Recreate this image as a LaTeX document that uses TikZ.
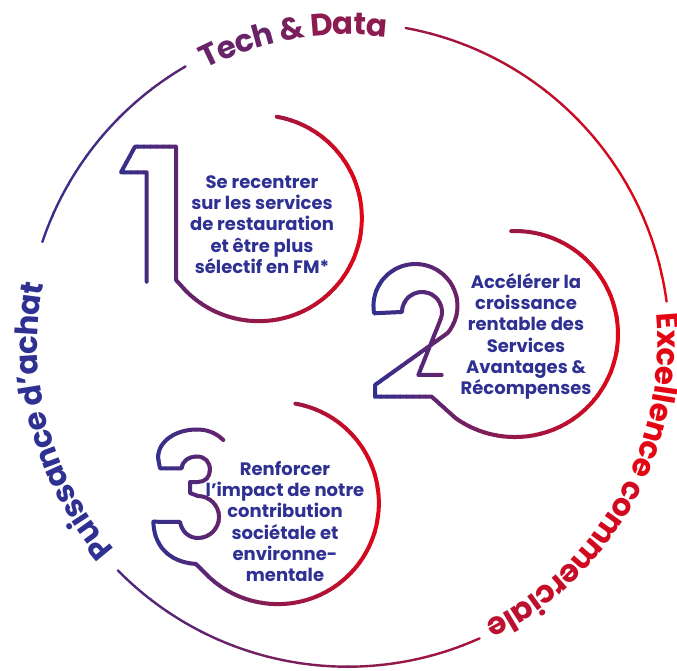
\documentclass[tikz,border=0pt]{standalone}
\usepackage{fontspec}
\setmainfont{Poppins}
\usepackage{tikz}
\usetikzlibrary{decorations.text}

\definecolor{brandblue}{RGB}{46,49,146}
\definecolor{brandred}{RGB}{227,6,19}

\newcommand\ringfont{\fontsize{31}{31}\selectfont\bfseries}

% stroke a path with a left-to-right blue/red gradient (vertical strips)
\newcommand\gradstroke[4]{%
  \foreach \k in {0,...,39}{%
    \pgfmathsetmacro\gsL{#2+(#3-#2)/40*\k-0.4}%
    \pgfmathsetmacro\gsR{#2+(#3-#2)/40*(\k+1)+0.4}%
    \pgfmathsetmacro\gsP{2.5*\k+1.25}%
    \begin{scope}
      \clip (\gsL,-50) rectangle (\gsR,720);
      \draw[#1, draw=brandred!\gsP!brandblue] #4;
    \end{scope}}}

\tikzset{
  ringline/.style={line width=2.4pt, line cap=round},
  numline/.style={line width=4pt, line cap=round, line join=round},
  goaltext/.style={align=center, text=brandblue, inner sep=0pt,
    font=\fontsize{18}{21.3}\selectfont\bfseries}
}

\begin{document}
\begin{tikzpicture}[x=1pt, y=1pt]
  \useasboundingbox (0,0) rectangle (677,670);

  % everything below in image coordinates (y downwards)
  \begin{scope}[yshift=670pt, yscale=-1]
    % outer ring, three pieces
    \gradstroke{ringline}{20}{677}{(347.5,344.7) ++(-7.7:322) arc[start angle=-7.7, end angle=-79.6, radius=322]
      (347.5,344.7) ++(-120.2:322) arc[start angle=-120.2, end angle=-161.4, radius=322]
      (347.5,344.7) ++(135.5:322) arc[start angle=135.5, end angle=65.8, radius=322]}

    % numeral 1 and its circle
    \gradstroke{numline}{112}{368}{(146.7,281.7) -- (146.7,172.3) -- (121,172.3) -- (135,146.7)
      -- (176,146.7) -- (176,280) -- (186,291) arc[start angle=135, end angle=-80, radius=103]}

    % numeral 2 and its circle
    \gradstroke{numline}{368}{625}{(441.7,375) -- (418.3,375) -- (440.8,318.8)
      arc[start angle=20, end angle=-180, radius=20] -- (374.1,313.3)
      arc[start angle=170, end angle=400, radius=42] -- (375,385) -- (375,396.7)
      -- (431.7,396.7) -- (455.9,418.4) arc[start angle=125, end angle=-92, radius=103]}

    % numeral 3 and its circle
    \gradstroke{numline}{148}{388}{(223.3,440) .. controls (215,432) and (206,429.5) .. (196.7,429.5)
      .. controls (176,429.5) and (158,441) .. (158,458) -- (160,468.3) -- (181.7,468.3)
      .. controls (182,461) and (189,456.5) .. (197,456.5)
      .. controls (205,456.5) and (210,462) .. (210,470)
      .. controls (210,477) and (205,482) .. (198,482) -- (190,482) -- (190,493) -- (198,496)
      arc[start angle=-90, end angle=90, radius=21]
      .. controls (189,538) and (182,532) .. (180,522) -- (153.3,521.7)
      .. controls (154,545) and (168,562) .. (196,564) -- (204,572)
      arc[start angle=137, end angle=-80, radius=101]}

    % goal texts
    \node[goaltext] (goalone) at (262,224.5) {Se recentrer\\sur les services\\de restauration\\et être plus\\sélectif en FM*};
    \node[goaltext] (goaltwo) at (526,336.5) {Accélérer la\\croissance\\rentable des\\Services\\Avantages \&\\Récompenses};
    \node[goaltext] (goalthree) at (285,521.6) {Renforcer\\l’impact de notre\\contribution\\sociétale et\\environne-\\mentale};
  \end{scope}

  % ring labels (y upwards, round the ring centre)
  \coordinate (ringc) at (347.5,325.3);
  \path[decorate, decoration={text along path, text align=center, raise=-12pt,
      text={|\ringfont\color{brandred!32!brandblue}|Tech |\ringfont\color{brandred!42!brandblue}|{\&} |\ringfont\color{brandred!52!brandblue}|Data}}]
    (ringc) ++(125:322) arc[start angle=125, end angle=75, radius=322];
  \path[decorate, decoration={text along path, text align=center, raise=-12pt,
      text={|\ringfont\color{brandred}|Excellence |\ringfont\color{brandred!90!brandblue}|comm|\ringfont\color{brandred!84!brandblue}|erc|\ringfont\color{brandred!78!brandblue}|iale}}]
    (ringc) ++(20:322) arc[start angle=20, end angle=-78, radius=322];
  \path[decorate, decoration={text along path, text align=center, raise=-12pt,
      text={|\ringfont\color{brandblue}|Puissance d’achat}}]
    (ringc) ++(235:322) arc[start angle=235, end angle=155, radius=322];
\end{tikzpicture}
\end{document}
